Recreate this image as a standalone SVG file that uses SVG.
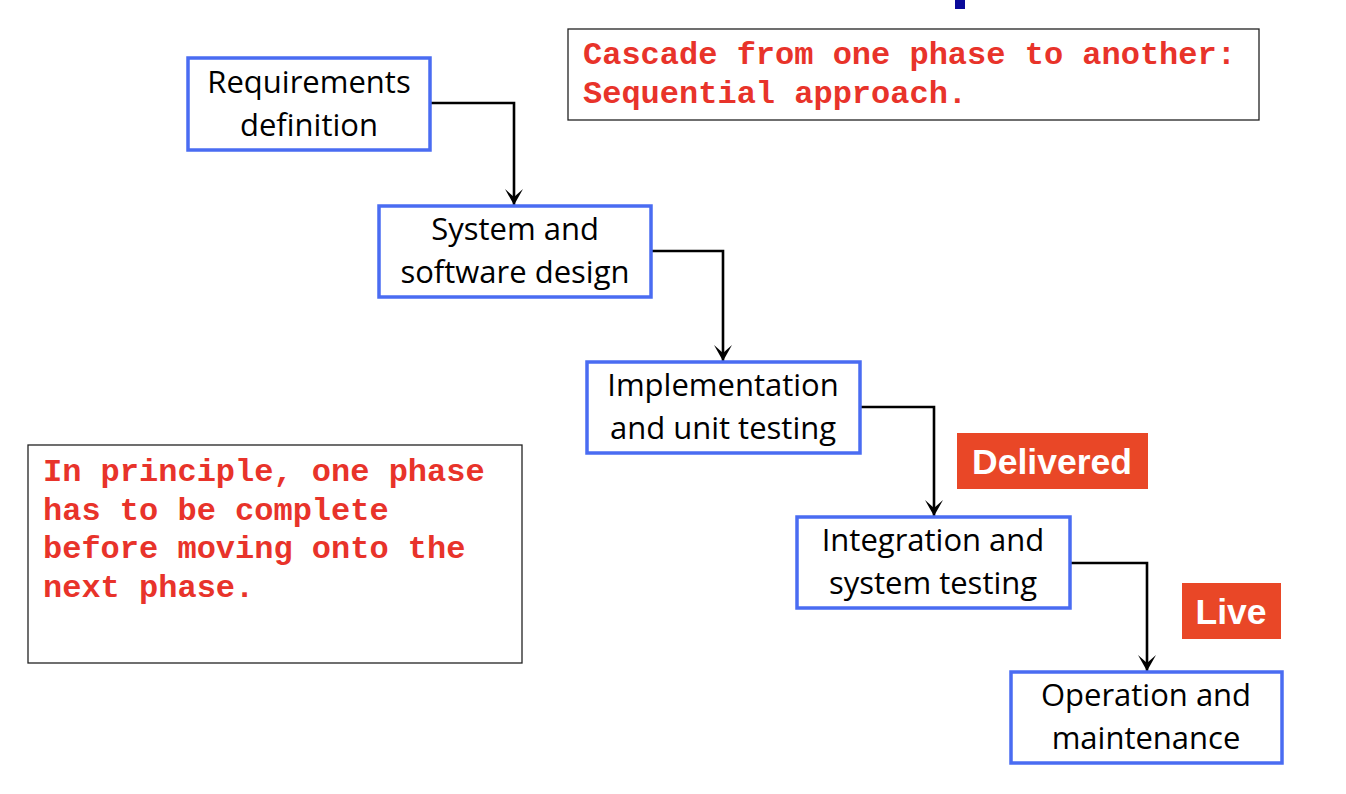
<svg xmlns="http://www.w3.org/2000/svg" width="1346" height="794" viewBox="0 0 1346 794">
<style>
.node rect{fill:#fff;stroke:#4a6cf2;stroke-width:3.5}
.node text{font-family:"Open Sans","Noto Sans",sans-serif;font-size:31px;fill:#000;text-anchor:middle}
.note rect{fill:#fff;stroke:#222;stroke-width:1.3}
.note text{font-family:"Liberation Mono","Courier New",monospace;font-weight:bold;font-size:32px;fill:#e8332a}
.tag rect{fill:#e94727}
.tag text{font-family:"Liberation Sans",Arial,sans-serif;font-weight:bold;font-size:35.5px;fill:#fff;text-anchor:middle}
.conn path{fill:none;stroke:#000;stroke-width:2.6}
</style>
<defs>
<marker id="ah" viewBox="-10 -17 20 18" refX="0" refY="0" markerWidth="20" markerHeight="18" markerUnits="userSpaceOnUse" orient="0">
<path d="M-9,-16 L0,0 L9,-16 L0,-8 Z" fill="#000"/>
</marker>
</defs>
<rect x="955" y="0" width="10" height="9" fill="#0a0a9a"/>
<g id="note-cascade" class="note">
<rect x="568" y="29" width="691" height="91"/>
<text x="583" y="64">Cascade from one phase to another:</text>
<text x="583" y="103">Sequential approach.</text>
</g>
<g id="note-principle" class="note">
<rect x="28" y="445" width="494" height="218"/>
<text x="43" y="481">In principle, one phase</text>
<text x="43" y="520">has to be complete</text>
<text x="43" y="558">before moving onto the</text>
<text x="43" y="597">next phase.</text>
</g>
<g id="connectors" class="conn">
<path d="M430,103 H514 V205" marker-end="url(#ah)"/>
<path d="M651,251 H723 V361" marker-end="url(#ah)"/>
<path d="M860,407 H934 V516" marker-end="url(#ah)"/>
<path d="M1070,563 H1147 V671" marker-end="url(#ah)"/>
</g>
<g id="n1" class="node">
<rect x="188" y="58" width="242" height="92"/>
<text x="309" y="93">Requirements</text>
<text x="309" y="136">definition</text>
</g>
<g id="n2" class="node">
<rect x="379" y="206" width="272" height="91"/>
<text x="515" y="240">System and</text>
<text x="515" y="283">software design</text>
</g>
<g id="n3" class="node">
<rect x="587" y="362" width="273" height="91"/>
<text x="723" y="396">Implementation</text>
<text x="723" y="439">and unit testing</text>
</g>
<g id="n4" class="node">
<rect x="797" y="517" width="273" height="91"/>
<text x="933" y="551">Integration and</text>
<text x="933" y="594">system testing</text>
</g>
<g id="n5" class="node">
<rect x="1011" y="672" width="271" height="91"/>
<text x="1146" y="706">Operation and</text>
<text x="1146" y="749">maintenance</text>
</g>
<g id="tag-delivered" class="tag">
<rect x="957" y="433" width="191" height="56"/>
<text x="1052" y="474">Delivered</text>
</g>
<g id="tag-live" class="tag">
<rect x="1182" y="583" width="99" height="56"/>
<text x="1231" y="624">Live</text>
</g>
</svg>
